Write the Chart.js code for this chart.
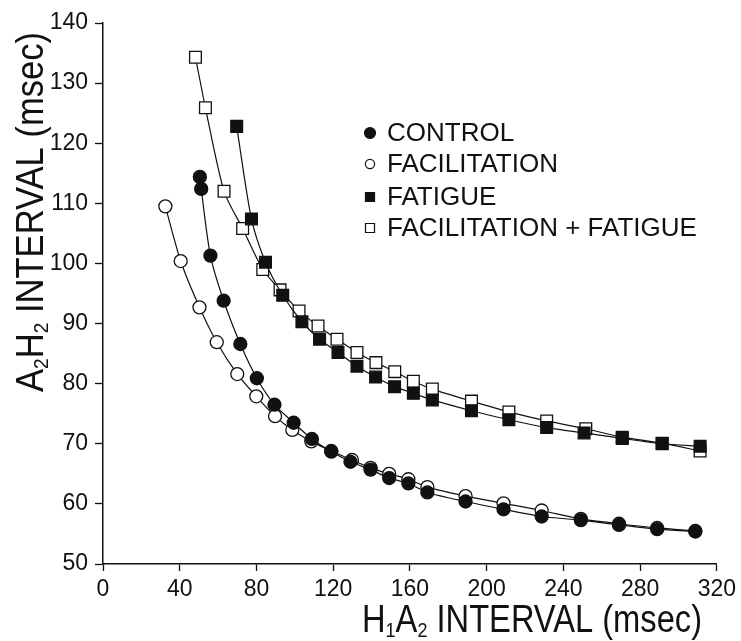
<!DOCTYPE html>
<html>
<head>
<meta charset="utf-8">
<script src="https://cdn.jsdelivr.net/npm/chart.js@4.4.1/dist/chart.umd.min.js"></script>
<style>
  html, body { margin: 0; padding: 0; background: #fff; }
  #wrap { width: 741px; height: 641px; }
</style>
</head>
<body>
<div id="wrap"><canvas id="intervalChart" width="741" height="641"></canvas></div>
<script>
const seriesNames = ['CONTROL', 'FACILITATION', 'FATIGUE', 'FACILITATION + FATIGUE'];

// H1A2 interval (x) and A2H2 interval (y), msec
const controlX = [50.5, 51.2, 56.0, 62.9, 71.6, 80.2, 89.4, 99.4, 108.9, 119.0, 129.0, 139.5, 149.2, 159.2, 169.1, 189.0, 208.8, 228.7, 249.1, 269.0, 288.9, 308.8];
const controlY = [114.4, 112.4, 101.3, 93.8, 86.6, 80.9, 76.5, 73.5, 70.8, 68.7, 67.0, 65.7, 64.3, 63.4, 61.9, 60.4, 59.1, 57.9, 57.3, 56.5, 55.8, 55.4];

const facilX = [32.5, 40.5, 50.3, 59.3, 70.0, 79.9, 89.7, 98.7, 108.6, 119.0, 129.8, 139.5, 149.2, 159.2, 169.1, 189.0, 208.8, 228.7, 249.1, 269.0, 288.9, 308.8];
const facilY = [109.5, 100.4, 92.7, 86.9, 81.6, 77.9, 74.6, 72.3, 70.4, 68.8, 67.3, 66.0, 65.0, 64.1, 62.8, 61.3, 60.1, 58.9, 57.5, 56.7, 56.0, 55.5];

const fatigueX = [69.7, 77.4, 84.7, 93.7, 103.7, 112.9, 122.5, 132.4, 142.1, 152.0, 161.8, 171.7, 192.1, 211.6, 231.3, 250.8, 270.7, 291.5, 311.3];
const fatigueY = [122.8, 107.4, 100.2, 94.7, 90.3, 87.4, 85.2, 82.9, 81.1, 79.5, 78.4, 77.3, 75.5, 74.0, 72.7, 71.8, 70.9, 70.0, 69.6];

const facilFatX = [48.2, 53.4, 63.1, 72.8, 83.3, 92.3, 102.2, 112.1, 122.0, 132.4, 142.3, 152.1, 161.8, 171.7, 192.1, 211.6, 231.3, 251.7, 270.7, 291.5, 311.3];
const facilFatY = [134.3, 125.9, 112.0, 105.8, 99.0, 95.6, 92.1, 89.6, 87.4, 85.2, 83.5, 82.0, 80.4, 79.1, 77.1, 75.3, 73.8, 72.5, 71.1, 70.1, 68.8];

const xTicks = [0, 40, 80, 120, 160, 200, 240, 280, 320];
const yTicks = [50, 60, 70, 80, 90, 100, 110, 120, 130, 140];

const FONT = '"Liberation Sans", Arial, Helvetica, sans-serif';
const INK = '#111';

function pairs(xs, ys) {
    return xs.map((x, i) => ({ x: x, y: ys[i] }));
}

function series(label, xs, ys, style, filled, radius) {
    return {
        label: label,
        data: pairs(xs, ys),
        borderColor: INK,
        borderWidth: 1.2,
        tension: 0.25,
        pointStyle: style,
        pointRadius: radius,
        pointBackgroundColor: filled ? INK : '#fff',
        pointBorderColor: INK,
        pointBorderWidth: 1.3,
        fill: false
    };
}

// draws text with real subscripts, stretched/condensed to a given length
function drawRichText(ctx, parts, x, y, rotate, targetLen, size) {
    const subSize = Math.round(size * 0.55);
    ctx.save();
    ctx.translate(x, y);
    if (rotate) ctx.rotate(-Math.PI / 2);
    ctx.textAlign = 'left';
    ctx.textBaseline = 'alphabetic';
    ctx.fillStyle = INK;
    let total = 0;
    parts.forEach(p => {
        ctx.font = (p.sub ? subSize : size) + 'px ' + FONT;
        total += ctx.measureText(p.t).width;
    });
    ctx.scale(targetLen / total, 1);
    let cx = 0;
    parts.forEach(p => {
        ctx.font = (p.sub ? subSize : size) + 'px ' + FONT;
        ctx.fillText(p.t, cx, p.sub ? size * 0.12 : 0);
        cx += ctx.measureText(p.t).width;
    });
    ctx.restore();
}

const axisTitles = {
    id: 'axisTitles',
    afterDraw(chart) {
        const ctx = chart.ctx;
        drawRichText(ctx, [{ t: 'H' }, { t: '1', sub: true }, { t: 'A' }, { t: '2', sub: true }, { t: ' INTERVAL (msec)' }],
            362, 632, false, 340, 38);
        drawRichText(ctx, [{ t: 'A' }, { t: '2', sub: true }, { t: 'H' }, { t: '2', sub: true }, { t: ' INTERVAL (msec)' }],
            43, 392, true, 360, 38);
    }
};

const insetLegend = {
    id: 'insetLegend',
    afterDraw(chart) {
        const ctx = chart.ctx;
        const rows = [133, 164, 197, 228];
        const mx = 370, tx = 387;
        ctx.save();
        chart.data.datasets.forEach((ds, i) => {
            const y = rows[i];
            ctx.fillStyle = ds.pointBackgroundColor;
            ctx.strokeStyle = INK;
            ctx.lineWidth = 1.2;
            ctx.beginPath();
            if (ds.pointStyle === 'circle') {
                ctx.arc(mx, y, ds.pointBackgroundColor === INK ? 5.5 : 4.6, 0, Math.PI * 2);
            } else {
                ctx.rect(mx - 4.5, y - 4.5, 9, 9);
            }
            ctx.fill();
            ctx.stroke();
            ctx.fillStyle = INK;
            ctx.font = '26px ' + FONT;
            ctx.textAlign = 'left';
            ctx.textBaseline = 'middle';
            ctx.fillText(ds.label, tx, y + 1);
        });
        ctx.restore();
    }
};

const ctx = document.getElementById('intervalChart').getContext('2d');

const intervalChart = new Chart(ctx, {
    type: 'line',
    data: {
        datasets: [
            series(seriesNames[0], controlX, controlY, 'circle', true, 6.5),
            series(seriesNames[1], facilX, facilY, 'circle', false, 6.5),
            series(seriesNames[2], fatigueX, fatigueY, 'rect', true, 8.3),
            series(seriesNames[3], facilFatX, facilFatY, 'rect', false, 8.3)
        ]
    },
    options: {
        responsive: false,
        animation: false,
        layout: { padding: { left: 0, top: 23, right: 21, bottom: 0 } },
        plugins: {
            legend: { display: false },
            tooltip: { enabled: false }
        },
        scales: {
            x: {
                type: 'linear',
                min: 0,
                max: 320,
                afterBuildTicks: axis => { axis.ticks = xTicks.map(v => ({ value: v })); },
                afterFit: axis => { axis.height = 77; },
                grid: { drawOnChartArea: false, drawTicks: true, tickLength: 7, tickColor: INK, tickWidth: 1.3 },
                border: { display: true, color: INK, width: 1.5 },
                ticks: { color: INK, font: { family: FONT, size: 23 }, padding: 5, maxRotation: 0, autoSkip: false }
            },
            y: {
                type: 'linear',
                min: 50,
                max: 140,
                afterBuildTicks: axis => { axis.ticks = yTicks.map(v => ({ value: v })); },
                afterFit: axis => { axis.width = 103; },
                grid: { drawOnChartArea: false, drawTicks: true, tickLength: 8, tickColor: INK, tickWidth: 1.3 },
                border: { display: true, color: INK, width: 1.5 },
                ticks: { color: INK, font: { family: FONT, size: 23 }, padding: 7, autoSkip: false }
            }
        }
    },
    plugins: [axisTitles, insetLegend]
});
</script>
</body>
</html>
